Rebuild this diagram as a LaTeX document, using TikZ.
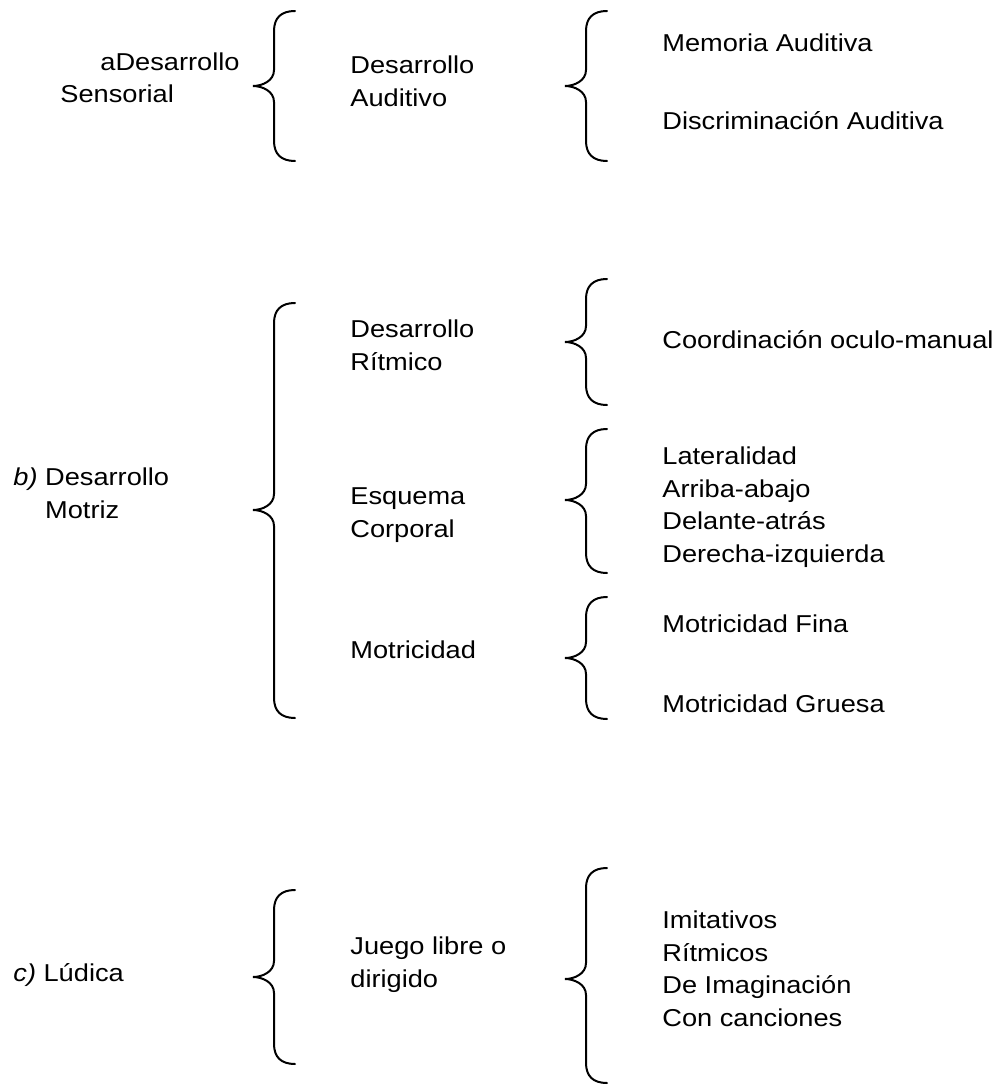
\documentclass[tikz,border=0pt]{standalone}
\usepackage{fontspec}
\setmainfont[FakeStretch=1.115]{Liberation Sans}
\begin{document}
\begin{tikzpicture}[x=0.5pt,y=-0.5pt,
  txt/.style={anchor=base west,inner sep=0pt,align=left,
    font=\fontsize{12.2pt}{16.25pt}\selectfont},
  llave/.style={line width=1pt,line cap=round}]

\newcommand\Llave[4]{% #1 stem, #2 top, #3 tip, #4 bottom
\draw[llave] (#1+21,#2) .. controls (#1+7,#2) and (#1,#2+7) .. (#1,#2+20)
  -- (#1,#3-16) .. controls (#1,#3-5) and (#1-12,#3) .. (#1-21,#3)
  .. controls (#1-12,#3) and (#1,#3+5) .. (#1,#3+16)
  -- (#1,#4-20) .. controls (#1,#4-7) and (#1+7,#4) .. (#1+21,#4);}

\useasboundingbox (0,0) rectangle (995,1086);

% a  (multi-line nodes sit on their last line)
\node[txt] (sens) at (60,103) {\hspace*{20pt}aDesarrollo\\Sensorial};
\Llave{274}{11}{86}{161}
\node[txt] (aud) at (350,106) {Desarrollo\\Auditivo};
\Llave{586}{11}{86}{161}
\node[txt] (mem) at (662,52) {Memoria Auditiva};
\node[txt] (disc) at (662,129) {Discriminación Auditiva};

% b
\node[txt] (motriz) at (13,518) {\textit{b)} Desarrollo\\\hphantom{\textit{b)} }Motriz};
\Llave{274}{303}{510}{718}
\node[txt] (ritm) at (350,370) {Desarrollo\\Rítmico};
\node[txt] (esq) at (350,537) {Esquema\\Corporal};
\node[txt] (motr) at (350,658) {Motricidad};
\Llave{586}{279}{342}{405} % ritmico
\Llave{586}{429}{500}{573} % esquema
\Llave{586}{597}{658}{719} % motricidad
\node[txt] (coord) at (662,348) {Coordinación oculo-manual};
\node[txt] (lat) at (662,562) {Lateralidad\\Arriba-abajo\\Delante-atrás\\Derecha-izquierda};
\node[txt] (fina) at (662,632) {Motricidad Fina};
\node[txt] (gruesa) at (662,712) {Motricidad Gruesa};

% c
\node[txt] (ludica) at (13,981) {\textit{c)} Lúdica};
\Llave{274}{890}{977}{1064}
\node[txt] (juego) at (350,987) {Juego libre o\\dirigido};
\Llave{586}{868}{979}{1083}
\node[txt] (juegos) at (662,1026) {Imitativos\\Rítmicos\\De Imaginación\\Con canciones};

\end{tikzpicture}
\end{document}
